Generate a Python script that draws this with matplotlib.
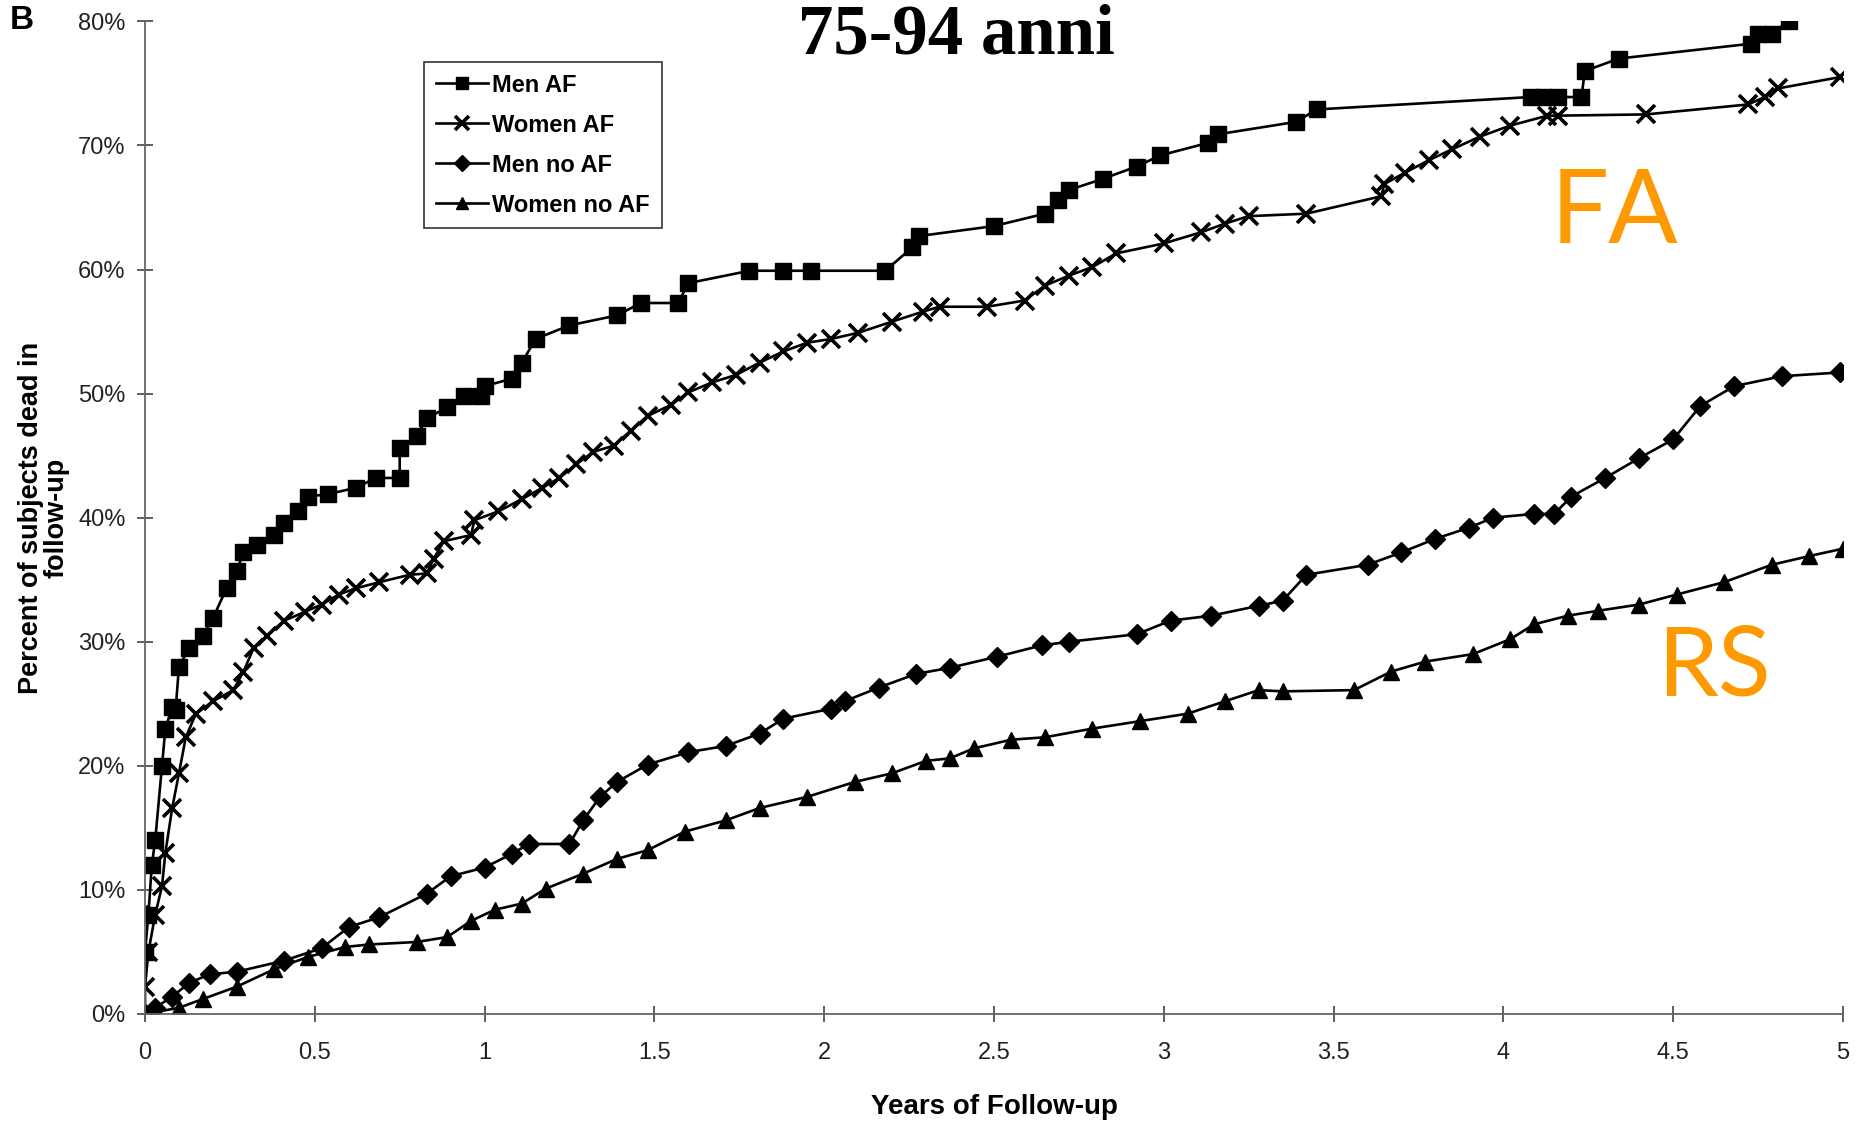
import numpy as np
import matplotlib
matplotlib.use("Agg")
import matplotlib.pyplot as plt
from matplotlib.ticker import FuncFormatter, MultipleLocator

# Data (years of follow-up, % dead)
men_af_t = [0.0, 0.0, 0.01, 0.02, 0.03, 0.05, 0.06, 0.08, 0.09, 0.1, 0.13, 0.17, 0.2, 0.24, 0.27,
            0.29, 0.33, 0.38, 0.41, 0.45, 0.48, 0.54, 0.62, 0.68, 0.75, 0.75, 0.8, 0.83, 0.89,
            0.94, 0.99, 1.0, 1.08, 1.11, 1.15, 1.25, 1.39, 1.46, 1.57, 1.6, 1.78, 1.88, 1.96,
            2.18, 2.26, 2.28, 2.5, 2.65, 2.69, 2.72, 2.82, 2.92, 2.99, 3.13, 3.16, 3.39, 3.45,
            4.08, 4.12, 4.16, 4.23, 4.24, 4.34, 4.73, 4.75, 4.79, 4.84]
men_af_v = [0.0, 5.0, 8.0, 12.0, 14.0, 20.0, 23.0, 24.7, 24.5, 28.0, 29.5, 30.5, 31.9, 34.3, 35.7,
            37.2, 37.8, 38.6, 39.6, 40.5, 41.7, 41.9, 42.4, 43.2, 43.2, 45.6, 46.6, 48.0, 48.9,
            49.8, 49.8, 50.6, 51.2, 52.5, 54.4, 55.5, 56.3, 57.3, 57.3, 58.9, 59.9, 59.9, 59.9,
            59.9, 61.8, 62.7, 63.5, 64.5, 65.6, 66.4, 67.3, 68.3, 69.2, 70.2, 70.9, 71.9, 72.9,
            73.9, 73.9, 73.9, 73.9, 76.0, 77.0, 78.2, 79.0, 79.0, 80.0]

women_af_t = [0.0, 0.01, 0.03, 0.05, 0.06, 0.08, 0.1, 0.12, 0.15, 0.2, 0.26, 0.29, 0.32, 0.36,
              0.41, 0.47, 0.52, 0.57, 0.62, 0.69, 0.78, 0.83, 0.85, 0.88, 0.96, 0.97, 1.04, 1.11,
              1.17, 1.22, 1.27, 1.32, 1.38, 1.43, 1.48, 1.55, 1.6, 1.67, 1.74, 1.81, 1.88, 1.95,
              2.02, 2.1, 2.2, 2.29, 2.34, 2.48, 2.59, 2.65, 2.72, 2.79, 2.86, 3.0, 3.11, 3.18,
              3.25, 3.42, 3.64, 3.65, 3.71, 3.78, 3.85, 3.93, 4.02, 4.13, 4.16, 4.42, 4.72,
              4.77, 4.81, 4.99]
women_af_v = [2.2, 5.0, 8.0, 10.3, 13.0, 16.6, 19.4, 22.3, 24.2, 25.2, 26.1, 27.6, 29.5, 30.5,
              31.7, 32.4, 33.0, 33.8, 34.3, 34.8, 35.4, 35.5, 36.7, 38.1, 38.6, 39.8, 40.5, 41.5,
              42.4, 43.2, 44.3, 45.3, 45.8, 47.0, 48.2, 49.1, 50.1, 50.9, 51.5, 52.5, 53.4, 54.1,
              54.4, 54.9, 55.8, 56.6, 57.0, 57.0, 57.5, 58.7, 59.5, 60.2, 61.3, 62.1, 63.0, 63.7,
              64.3, 64.5, 65.9, 66.9, 67.8, 68.8, 69.7, 70.7, 71.6, 72.4, 72.4, 72.5, 73.3,
              73.9, 74.6, 75.5]

men_noaf_t = [0.0, 0.03, 0.08, 0.13, 0.19, 0.27, 0.41, 0.52, 0.6, 0.69, 0.83, 0.9, 1.0, 1.08,
              1.13, 1.25, 1.29, 1.34, 1.39, 1.48, 1.6, 1.71, 1.81, 1.88, 2.02, 2.06, 2.16, 2.27,
              2.37, 2.51, 2.64, 2.72, 2.92, 3.02, 3.14, 3.28, 3.35, 3.42, 3.6, 3.7, 3.8, 3.9,
              3.97, 4.09, 4.15, 4.2, 4.3, 4.4, 4.5, 4.58, 4.68, 4.82, 4.99]
men_noaf_v = [0.0, 0.5, 1.4, 2.5, 3.2, 3.4, 4.3, 5.3, 7.0, 7.8, 9.7, 11.1, 11.8, 12.9,
              13.7, 13.7, 15.6, 17.5, 18.7, 20.1, 21.1, 21.6, 22.6, 23.8, 24.6, 25.2, 26.3, 27.4,
              27.9, 28.8, 29.7, 30.0, 30.6, 31.7, 32.1, 32.9, 33.3, 35.4, 36.2, 37.2, 38.3, 39.2,
              40.0, 40.3, 40.3, 41.7, 43.2, 44.8, 46.3, 49.0, 50.6, 51.4, 51.7]

women_noaf_t = [0.0, 0.1, 0.17, 0.27, 0.38, 0.48, 0.59, 0.66, 0.8, 0.89, 0.96, 1.03, 1.11, 1.18,
                1.29, 1.39, 1.48, 1.59, 1.71, 1.81, 1.95, 2.09, 2.2, 2.3, 2.37, 2.44, 2.55, 2.65,
                2.79, 2.93, 3.07, 3.18, 3.28, 3.35, 3.56, 3.67, 3.77, 3.91, 4.02, 4.09, 4.19,
                4.28, 4.4, 4.51, 4.65, 4.79, 4.9, 5.0]
women_noaf_v = [0.0, 0.5, 1.2, 2.2, 3.6, 4.6, 5.4, 5.6, 5.8, 6.2, 7.5, 8.4, 8.9, 10.1,
                11.3, 12.5, 13.2, 14.7, 15.6, 16.6, 17.5, 18.7, 19.4, 20.4, 20.6, 21.4, 22.1, 22.3,
                23.0, 23.6, 24.2, 25.2, 26.1, 26.0, 26.1, 27.6, 28.4, 29.0, 30.2, 31.4, 32.1,
                32.5, 33.0, 33.8, 34.8, 36.2, 36.9, 37.5]

x_ticks = [0, 0.5, 1, 1.5, 2, 2.5, 3, 3.5, 4, 4.5, 5]
x_tick_labels = ['0', '0.5', '1', '1.5', '2', '2.5', '3', '3.5', '4', '4.5', '5']

sans = ['Liberation Sans', 'DejaVu Sans']

fig = plt.figure(figsize=(18.64, 11.24), dpi=100)
ax = fig.add_axes([0.0778, 0.0979, 0.9109, 0.8831])

ax.plot(men_af_t, men_af_v, color='black', lw=1.9, marker='s', ms=12, label='Men AF')
ax.plot(women_af_t, women_af_v, color='black', lw=1.9, marker='x', ms=13, mew=2.6, label='Women AF')
ax.plot(men_noaf_t, men_noaf_v, color='black', lw=1.9, marker='D', ms=10.5, label='Men no AF')
ax.plot(women_noaf_t, women_noaf_v, color='black', lw=1.9, marker='^', ms=12, label='Women no AF')

ax.set_xlim(0, 5)
ax.set_ylim(0, 80)
ax.set_xticks(x_ticks)
ax.set_xticklabels(x_tick_labels)
ax.yaxis.set_major_locator(MultipleLocator(10))
ax.yaxis.set_major_formatter(FuncFormatter(lambda v, p: '%d%%' % v))

for s in ['top', 'right']:
    ax.spines[s].set_visible(False)
for s in ['left', 'bottom']:
    ax.spines[s].set_color('#666666')
    ax.spines[s].set_linewidth(1.3)
ax.tick_params(axis='both', direction='inout', length=12, width=1.2, color='#444444',
               labelsize=17, pad=8)
ax.tick_params(axis='x', pad=14)
for lab in ax.get_xticklabels() + ax.get_yticklabels():
    lab.set_family(sans)
    lab.set_color('#222222')

ax.set_ylabel('Percent of subjects dead in\nfollow-up', fontsize=19.5, fontweight='bold',
              family=sans, linespacing=1.0, labelpad=6)
ax.set_xlabel('Years of Follow-up', fontsize=20, fontweight='bold', family=sans, labelpad=22)

leg = ax.legend(loc='upper left', bbox_to_anchor=(412 / 1864, 1 - 50 / 1124),
                bbox_transform=fig.transFigure, frameon=True, fancybox=False,
                prop={'family': sans, 'size': 17, 'weight': 'bold'},
                handlelength=2.2, handletextpad=0.2, labelspacing=0.72,
                borderpad=0.5, markerscale=0.75)
leg.get_frame().set_edgecolor('black')
leg.get_frame().set_linewidth(1.2)

fig.text(0.513, 0.968, '75-94 anni', ha='center', va='center', fontsize=51,
         fontweight='bold', family=['Liberation Serif', 'DejaVu Serif'])
fig.text(0.005, 0.982, 'B', ha='left', va='center', fontsize=24, fontweight='bold',
         family=sans)

fig.text(0.832, 0.81, 'FA', ha='left', va='center', fontsize=74, color='#FF9900',
         family=['Lato', 'DejaVu Sans'])
fig.text(0.889, 0.405, 'RS', ha='left', va='center', fontsize=70, color='#FF9900',
         family=['Lato', 'DejaVu Sans'])

plt.savefig('out.png', dpi=100)
